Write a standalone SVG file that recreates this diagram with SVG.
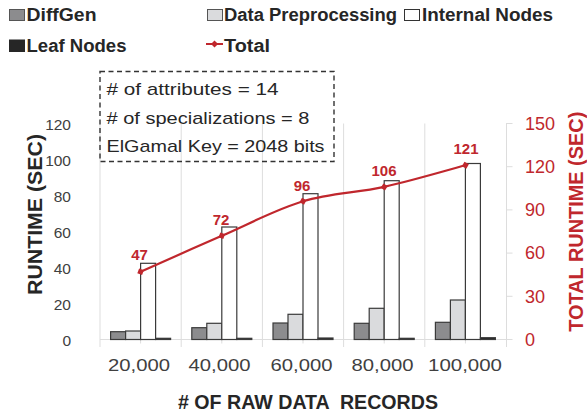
<svg xmlns="http://www.w3.org/2000/svg" width="587" height="414" viewBox="0 0 587 414">
<defs>
<style>
text{font-family:"Liberation Sans",Arial,sans-serif;}
.leg{font-size:18px;font-weight:bold;fill:#262626;}
.box{font-size:17px;fill:#262626;}
.yl{font-size:15.5px;fill:#404040;text-anchor:end;}
.yr{font-size:18px;fill:#C0272D;}
.xl{font-size:16.5px;fill:#404040;text-anchor:middle;}
.ttl{font-size:20px;font-weight:bold;fill:#262626;text-anchor:middle;}
.val{font-size:15px;font-weight:bold;fill:#C0272D;text-anchor:middle;}
.grid{stroke:#DDDDDD;stroke-width:1;fill:none;}
.bar{stroke:#3A3A3A;stroke-width:1.2;}
.dg{fill:#8C8C8E;}
.dp{fill:#DADBDD;}
.in{fill:#FFFFFF;}
.lf{fill:#262626;}
</style>
<marker id="dia" viewBox="-5 -5 10 10" markerWidth="8" markerHeight="8" markerUnits="userSpaceOnUse" refX="0" refY="0" orient="auto">
<path d="M0,-4.5 L4.5,0 L0,4.5 L-4.5,0 Z" fill="#C0272D"/>
</marker>
</defs>
<rect width="587" height="414" fill="#FFFFFF"/>

<g id="legend">
<rect class="bar dg" x="9.5" y="9.5" width="15" height="11" style="stroke:#555;stroke-width:1"/>
<text class="leg" x="26.5" y="21" textLength="70" lengthAdjust="spacingAndGlyphs">DiffGen</text>
<rect class="bar dp" x="207.5" y="9.5" width="15" height="11" style="stroke:#555;stroke-width:1"/>
<text class="leg" x="224" y="21" textLength="173" lengthAdjust="spacingAndGlyphs">Data Preprocessing</text>
<rect class="bar in" x="404.5" y="9.5" width="15" height="11" style="stroke:#333;stroke-width:1"/>
<text class="leg" x="422" y="21" textLength="131" lengthAdjust="spacingAndGlyphs">Internal Nodes</text>
<rect class="bar lf" x="9.5" y="40" width="15" height="11.5" style="stroke:#262626;stroke-width:1"/>
<text class="leg" x="26.5" y="51.5" textLength="100" lengthAdjust="spacingAndGlyphs">Leaf Nodes</text>
<path d="M206,44 L214.5,44 L223,44" stroke="#C0272D" stroke-width="2" fill="none" marker-mid="url(#dia)"/>
<text class="leg" x="224" y="51.5" textLength="46" lengthAdjust="spacingAndGlyphs">Total</text>
</g>

<g id="axes">
<line class="grid" x1="100" y1="123.5" x2="100" y2="347"/>
<line class="grid" x1="181.2" y1="123.5" x2="181.2" y2="347"/>
<line class="grid" x1="262.4" y1="123.5" x2="262.4" y2="347"/>
<line class="grid" x1="343.6" y1="123.5" x2="343.6" y2="347"/>
<line class="grid" x1="424.8" y1="123.5" x2="424.8" y2="347"/>
<line class="grid" x1="506.5" y1="123" x2="506.5" y2="347"/>
<line class="grid" x1="100" y1="339.5" x2="506.5" y2="339.5"/>
<path class="grid" d="M140.6,339.5v4M221.8,339.5v4M303,339.5v4M384.2,339.5v4M465.4,339.5v4"/>
<path class="grid" d="M506.5,123.5h6M506.5,166.7h6M506.5,209.9h6M506.5,253.1h6M506.5,296.3h6M506.5,339.5h6"/>
<text class="yl" x="71" y="129.5">120</text>
<text class="yl" x="71" y="165.5">100</text>
<text class="yl" x="71" y="201.7">80</text>
<text class="yl" x="71" y="237.8">60</text>
<text class="yl" x="71" y="274">40</text>
<text class="yl" x="71" y="310">20</text>
<text class="yl" x="71" y="346">0</text>
<text class="yr" x="525" y="129.8">150</text>
<text class="yr" x="525" y="173">120</text>
<text class="yr" x="525" y="216.2">90</text>
<text class="yr" x="525" y="259.4">60</text>
<text class="yr" x="525" y="302.6">30</text>
<text class="yr" x="525" y="345.8">0</text>
<text class="xl" x="139" y="371" textLength="62" lengthAdjust="spacingAndGlyphs">20,000</text>
<text class="xl" x="219.5" y="371" textLength="62" lengthAdjust="spacingAndGlyphs">40,000</text>
<text class="xl" x="301.5" y="371" textLength="62" lengthAdjust="spacingAndGlyphs">60,000</text>
<text class="xl" x="382.5" y="371" textLength="62" lengthAdjust="spacingAndGlyphs">80,000</text>
<text class="xl" x="465" y="371" textLength="74" lengthAdjust="spacingAndGlyphs">100,000</text>
<text class="ttl" x="308" y="409" xml:space="preserve" style="white-space:pre" textLength="260" lengthAdjust="spacingAndGlyphs"># OF RAW DATA  RECORDS</text>
<text class="ttl" transform="translate(42,214.5) rotate(-90)" textLength="161" lengthAdjust="spacingAndGlyphs">RUNTIME (SEC)</text>
<text class="ttl" transform="translate(583,221.7) rotate(-90)" style="fill:#C0272D" textLength="220" lengthAdjust="spacingAndGlyphs">TOTAL RUNTIME (SEC)</text>
</g>

<g id="bars">
<g id="g20000">
<rect class="bar dg" x="110.6" y="331.7" width="15" height="7.8"/>
<rect class="bar dp" x="125.6" y="331" width="15" height="8.5"/>
<rect class="bar in" x="140.6" y="263.3" width="15" height="76.2"/>
<rect class="bar lf" x="155.6" y="338.3" width="15" height="1.2"/>
</g>
<g id="g40000">
<rect class="bar dg" x="191.8" y="327.7" width="15" height="11.8"/>
<rect class="bar dp" x="206.8" y="323.3" width="15" height="16.2"/>
<rect class="bar in" x="221.8" y="227" width="15" height="112.5"/>
<rect class="bar lf" x="236.8" y="338.3" width="15" height="1.2"/>
</g>
<g id="g60000">
<rect class="bar dg" x="273" y="323" width="15" height="16.5"/>
<rect class="bar dp" x="288" y="314.3" width="15" height="25.2"/>
<rect class="bar in" x="303" y="193.7" width="15" height="145.8"/>
<rect class="bar lf" x="318" y="338" width="15" height="1.5"/>
</g>
<g id="g80000">
<rect class="bar dg" x="354.2" y="323.3" width="15" height="16.2"/>
<rect class="bar dp" x="369.2" y="308.3" width="15" height="31.2"/>
<rect class="bar in" x="384.2" y="180.7" width="15" height="158.8"/>
<rect class="bar lf" x="399.2" y="338.3" width="15" height="1.2"/>
</g>
<g id="g100000">
<rect class="bar dg" x="435.4" y="322.3" width="15" height="17.2"/>
<rect class="bar dp" x="450.4" y="300" width="15" height="39.5"/>
<rect class="bar in" x="465.4" y="163.5" width="15" height="176"/>
<rect class="bar lf" x="480.4" y="337.7" width="15" height="1.8"/>
</g>
</g>

<g id="connectors">
<path d="M140.6,271.8 C154.1,265.8 194.7,247.55 221.8,235.8 C248.9,224.05 275.9,209.45 303,201.3 C330.1,193.15 357.1,192.9 384.2,186.9 C411.3,180.9 451.9,168.9 465.4,165.3" fill="none" stroke="#C0272D" stroke-width="2.2" marker-start="url(#dia)" marker-mid="url(#dia)" marker-end="url(#dia)"/>
</g>

<g id="values">
<text class="val" x="139.5" y="260">47</text>
<text class="val" x="221" y="225">72</text>
<text class="val" x="302" y="191">96</text>
<text class="val" x="384" y="176">106</text>
<text class="val" x="466" y="154">121</text>
</g>

<g id="note">
<rect x="100" y="71.5" width="234" height="90" fill="none" stroke="#333" stroke-width="1.4" stroke-dasharray="5,3.5"/>
<text class="box" x="106.5" y="95" textLength="172" lengthAdjust="spacingAndGlyphs"># of attributes = 14</text>
<text class="box" x="106.5" y="123.7" textLength="203" lengthAdjust="spacingAndGlyphs"># of specializations = 8</text>
<text class="box" x="106.5" y="151.7" textLength="218" lengthAdjust="spacingAndGlyphs">ElGamal Key = 2048 bits</text>
</g>
</svg>
